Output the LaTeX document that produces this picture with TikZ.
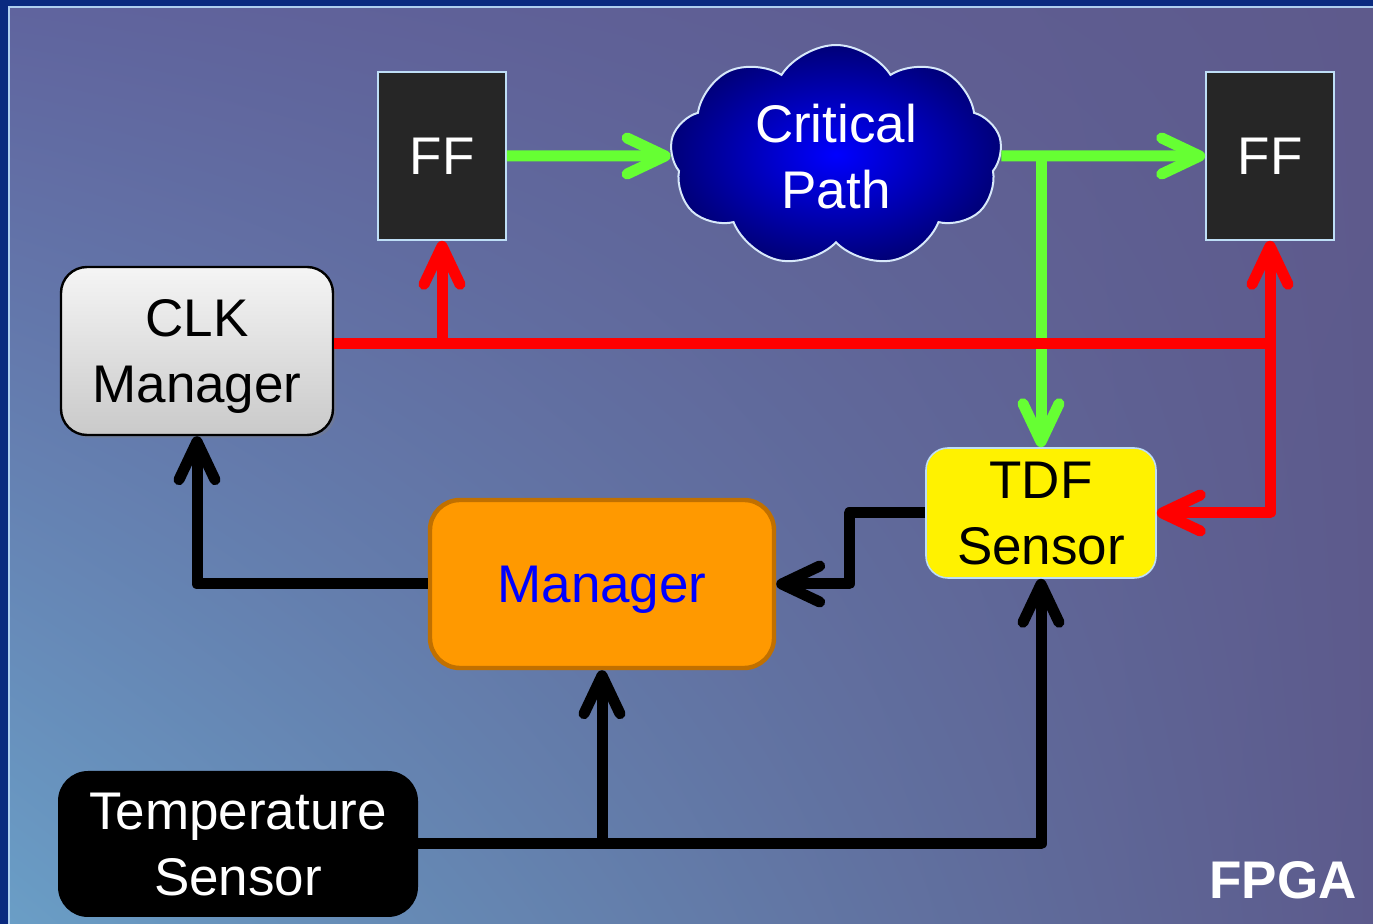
\documentclass[tikz,border=0pt]{standalone}
\usepackage{fontspec}
\setmainfont{Liberation Sans}
\usepackage{tikz}
\usetikzlibrary{shadows,shapes,shadings,arrows.meta}
\usepackage{xcolor}
\definecolor{slidenavy}{RGB}{10,42,128}
\definecolor{frameline}{RGB}{175,208,240}
\definecolor{ffgray}{RGB}{38,38,38}
\definecolor{ffborder}{RGB}{190,222,246}
\definecolor{cpdark}{RGB}{0,0,120}
\definecolor{cpborder}{RGB}{215,232,250}
\definecolor{mgrorange}{RGB}{255,153,0}
\definecolor{mgrborder}{RGB}{192,112,0}
\definecolor{pathgreen}{RGB}{102,255,51}
\definecolor{bgtl}{RGB}{96,100,158}
\definecolor{bgbl}{RGB}{106,158,198}
\definecolor{bgtr}{RGB}{94,90,140}
\definecolor{bgbr}{RGB}{92,90,140}

\begin{document}
\begin{tikzpicture}[x=0.5pt, y=-0.5pt, font=\fontsize{26.5}{33}\selectfont,
  flipflop/.style={draw=ffborder, line width=0.8pt, fill=ffgray, text=white,
    minimum width=64pt, minimum height=84pt, inner sep=0pt},
  unit/.style={align=center, inner sep=0pt, text depth=0pt, rounded corners=13pt},
  wire/.style={line width=5.5pt, line join=round,
    -{Straight Barb[length=19pt, width=18pt, round]}},
  clkline/.style={wire, red},
  pathline/.style={wire, pathgreen},
  ctrlline/.style={wire, black},
]
\useasboundingbox (0,0) rectangle (1373,924);
\fill[slidenavy] (0,0) rectangle (1373,924);
\shade[upper left=bgtl, upper right=bgtr, lower left=bgbl, lower right=bgbr]
  (9,7) rectangle (1373,924);
\draw[frameline, line width=0.8pt] (9,924) -- (9,7) -- (1373,7);

\node[flipflop] (ff1) at (442,156) {FF};
\node[flipflop] (ff2) at (1270,156) {FF};
\node[cloud, cloud puffs=9, cloud puff arc=115, aspect=1.5, draw=cpborder, line width=1pt,
  inner color=blue, outer color=cpdark, text=white, align=center, text depth=0pt,
  minimum width=166pt, minimum height=111pt, inner sep=0pt] (cp) at (836,156) {Critical\\Path};
\node[unit, draw=black, line width=1.2pt, top color=gray!8, bottom color=gray!42,
  minimum width=136pt, minimum height=84pt,
  drop shadow={shadow xshift=1.5pt, shadow yshift=-1.5pt, opacity=0.35}] (clk) at (197,351) {CLK\\Manager};
\node[unit, draw=ffborder, line width=0.8pt, fill=yellow, rounded corners=11pt,
  minimum width=115pt, minimum height=65pt] (tdf) at (1041,513) {TDF\\Sensor};
\node[unit, draw=mgrborder, line width=2.2pt, fill=mgrorange, text=blue, rounded corners=15pt,
  minimum width=172pt, minimum height=84pt] (mgr) at (602,584) {Manager};
\node[unit, fill=black, text=white, rounded corners=15pt,
  minimum width=180pt, minimum height=73pt] (temp) at (238,844) {Temperature\\Sensor};
\node[text=white, font=\fontsize{26.5}{33}\selectfont\bfseries] (fpga) at (1283,880) {FPGA};

\coordinate (clkjoin) at (1270,344);

\draw[pathline] (ff1.east) -- (cp.west);
\draw[pathline] (cp.east) -- (ff2.west);
\draw[pathline] (cp.east -| tdf.north) -- (tdf.north);

\draw[clkline, -] (clk.east |- clkjoin) -- (clkjoin);
\draw[clkline] (ff1.south |- clkjoin) -- (ff1.south);
\draw[clkline] (clkjoin) -- (ff2.south);
\draw[clkline] (clkjoin) |- (tdf.east);

\draw[ctrlline] (mgr.west) -| (clk.south);
\draw[ctrlline] (tdf.west) -- ++(-76,0) |- (mgr.east);
\draw[ctrlline] (temp.east) -| (tdf.south);
\draw[ctrlline] (temp.east -| mgr.south) -- (mgr.south);
\end{tikzpicture}
\end{document}
